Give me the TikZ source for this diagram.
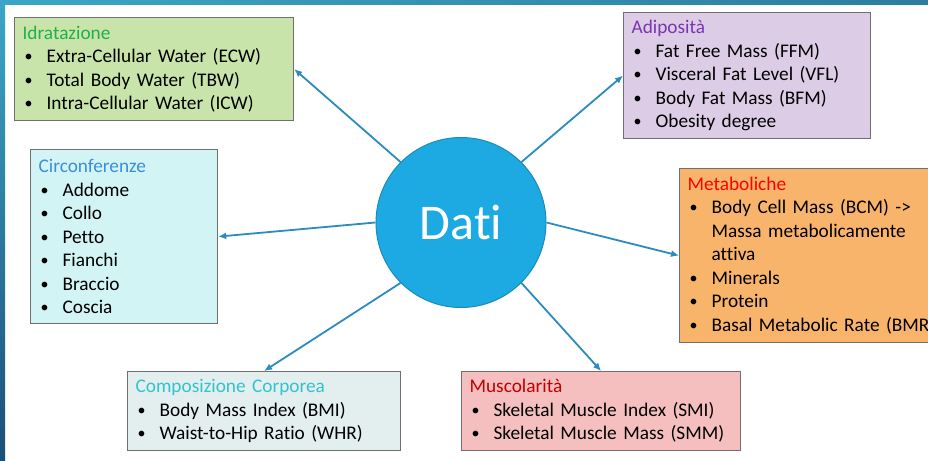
\documentclass[tikz,border=0pt]{standalone}
\usepackage{fontspec}
\setmainfont{Carlito}[Ligatures={TeX,NoCommon}]
\usetikzlibrary{arrows.meta}
\definecolor{idrfill}{HTML}{C9E4AA}
\definecolor{idrtxt}{HTML}{1FB04A}
\definecolor{adifill}{HTML}{DCCCE6}
\definecolor{aditxt}{HTML}{7B35B0}
\definecolor{circfill}{HTML}{D2F4F4}
\definecolor{circtxt}{HTML}{3B8FD9}
\definecolor{metfill}{HTML}{F9B46B}
\definecolor{mettxt}{HTML}{FF0000}
\definecolor{compfill}{HTML}{E3EEEE}
\definecolor{comptxt}{HTML}{33C3CF}
\definecolor{musfill}{HTML}{F5BFC0}
\definecolor{mustxt}{HTML}{C00000}
\definecolor{boxline}{HTML}{6F6F6F}
\definecolor{datifill}{HTML}{1DA9E1}
\definecolor{datiline}{HTML}{1A8CBB}
\definecolor{connc}{HTML}{2C8CC0}
\definecolor{stripa}{HTML}{3BA6C6}
\definecolor{stripb}{HTML}{2C7D9E}
\definecolor{stripc}{HTML}{1B4F7A}
\newcommand\bul{\makebox[24pt][l]{\hspace*{2pt}\raisebox{1pt}{\fontsize{16}{16}\selectfont •}}}
\newcommand\ind{\hspace*{24pt}}
\begin{document}
\begin{tikzpicture}[x=1pt,y=-1pt,
  box/.style={draw=boxline, line width=1.2pt, anchor=north west, inner xsep=8pt, inner ysep=0pt,
    align=left, font=\fontsize{19.3}{23.5}\selectfont},
  conn/.style={draw=connc, line width=1.8pt, -{Latex[length=8pt,width=7pt]}}]
\clip (0,0) rectangle (928,460);
\fill[white] (0,0) rectangle (928,460);
\shade[left color=stripa, right color=stripb] (0,0) rectangle (928,5);
\shade[top color=stripa, bottom color=stripc] (0,0) rectangle (5,460);

\node[circle, fill=datifill, draw=datiline, line width=1pt, minimum size=170pt, inner sep=0pt,
  text=white, font=\fontsize{50}{60}\selectfont] (dati) at (461,222.5) {Dati};

\node[box, fill=idrfill, text width=263pt, minimum height=103pt] (idr) at (14,17)
 {{\color{idrtxt}Idratazione}\\
  \bul Extra-Cellular Water (ECW)\\
  \bul Total Body Water (TBW)\\
  \bul Intra-Cellular Water (ICW)};

\node[box, fill=adifill, text width=231pt, minimum height=126pt] (adi) at (623,12)
 {{\color{aditxt}Adiposità}\\
  \bul Fat Free Mass (FFM)\\
  \bul Visceral Fat Level (VFL)\\
  \bul Body Fat Mass (BFM)\\
  \bul Obesity degree};

\node[box, fill=circfill, text width=171pt, minimum height=174pt] (circ) at (30,149)
 {{\color{circtxt}Circonferenze}\\
  \bul Addome\\
  \bul Collo\\
  \bul Petto\\
  \bul Fianchi\\
  \bul Braccio\\
  \bul Coscia};

\node[box, fill=metfill, text width=290pt, minimum height=174pt] (met) at (679,168)
 {{\color{mettxt}Metaboliche}\\
  \bul Body Cell Mass (BCM) ->\\
  \ind Massa metabolicamente\\
  \ind attiva\\
  \bul Minerals\\
  \bul Protein\\
  \bul Basal Metabolic Rate (BMR)};

\node[box, fill=compfill, text width=257pt, minimum height=79pt] (comp) at (127,371)
 {{\color{comptxt}Composizione Corporea}\\
  \bul Body Mass Index (BMI)\\
  \bul Waist-to-Hip Ratio (WHR)};

\node[box, fill=musfill, text width=263pt, minimum height=79pt] (mus) at (461,371)
 {{\color{mustxt}Muscolarità}\\
  \bul Skeletal Muscle Index (SMI)\\
  \bul Skeletal Muscle Mass (SMM)};

\draw[conn] (dati.135) -- (idr.east);
\draw[conn] (dati.45) -- (adi.west);
\draw[conn] (dati.180) -- (circ.east);
\draw[conn] (dati.0) -- (met.west);
\draw[conn] (dati.225) -- (comp.north);
\draw[conn] (dati.315) -- (mus.north);
\end{tikzpicture}
\end{document}
